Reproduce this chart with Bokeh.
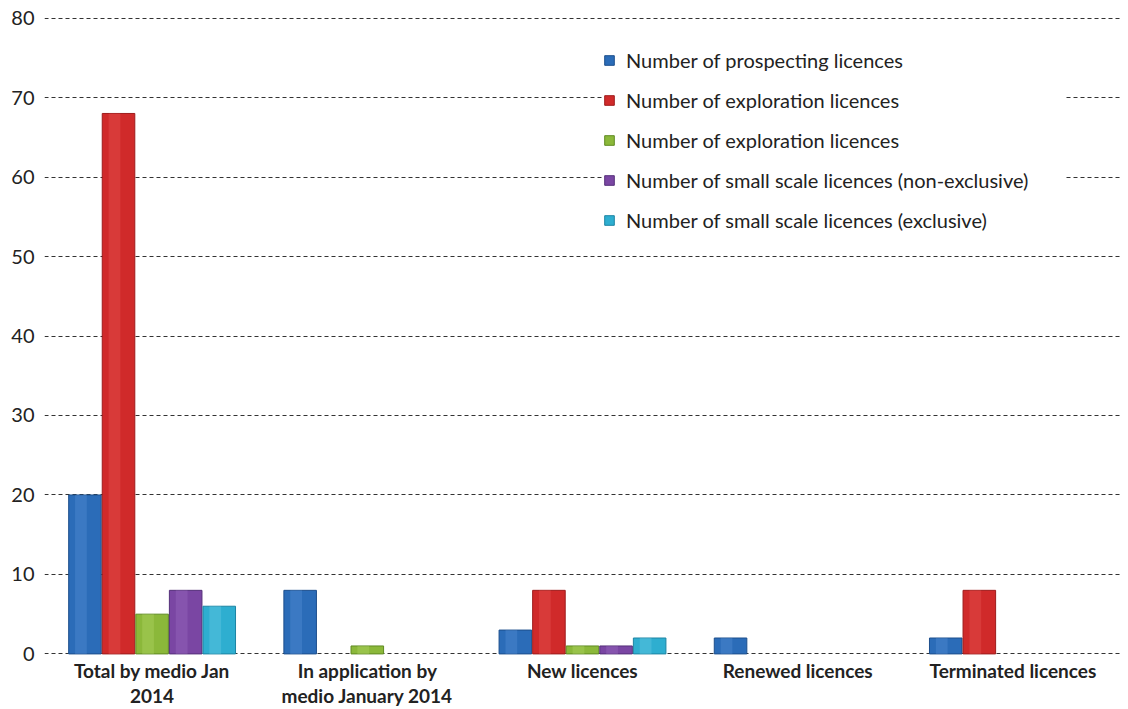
from bokeh.plotting import figure
from bokeh.models import ColumnDataSource, FactorRange, Range1d, Legend, LegendItem, FixedTicker
from bokeh.transform import dodge
from bokeh.embed import file_html
from bokeh.resources import INLINE

categories = ["Total by medio Jan\n2014", "In application by\nmedio January 2014",
              "New licences", "Renewed licences", "Terminated licences"]
prospecting = [20, 8, 3, 2, 2]
exploration = [68, 0, 8, 0, 8]
exploration_b = [5, 1, 1, 0, 0]
small_nonexcl = [8, 0, 1, 0, 0]
small_excl = [6, 0, 2, 0, 0]
y_ticks = [0, 10, 20, 30, 40, 50, 60, 70, 80]

series = [
    ("Number of prospecting licences", prospecting, "#2b6cb8", "#1d4f8c", "#5a92d6"),
    ("Number of exploration licences", exploration, "#d02a2a", "#9e1c1c", "#e85a55"),
    ("Number of exploration licences", exploration_b, "#8bb83a", "#5f8a22", "#b5d66a"),
    ("Number of small scale licences (non-exclusive)", small_nonexcl, "#7a46a3", "#55307a", "#9d70c4"),
    ("Number of small scale licences (exclusive)", small_excl, "#2eaed0", "#1d84a3", "#6ccbe6"),
]

p = figure(width=1120, height=708, x_range=FactorRange(*categories, range_padding=0),
           y_range=Range1d(-0.2, 80.2), output_backend="svg", toolbar_location=None,
           frame_width=1076, frame_height=639, min_border_left=44, min_border_right=0,
           min_border_top=16)

p.outline_line_color = None
p.background_fill_color = "white"
p.xgrid.grid_line_color = None
p.ygrid.grid_line_color = "#333333"
p.ygrid.grid_line_dash = "4 3"
p.ygrid.grid_line_width = 1
p.yaxis.ticker = FixedTicker(ticks=y_ticks)

for ax in (p.xaxis, p.yaxis):
    ax.axis_line_color = None
    ax.major_tick_line_color = None
    ax.minor_tick_line_color = None

p.yaxis.major_label_text_font = "Lato"
p.yaxis.major_label_text_font_size = "20px"
p.yaxis.major_label_text_color = "#222222"
p.yaxis.major_label_standoff = 4

p.xaxis.major_label_text_font = "Lato"
p.xaxis.major_label_text_font_style = "bold"
p.xaxis.major_label_text_font_size = "19px"
p.xaxis.major_label_text_color = "#222222"
p.xaxis.major_label_standoff = -3
p.xaxis.major_label_text_line_height = 1.12

slot = 0.156
items = []
for i, (label, vals, col, dark, light) in enumerate(series):
    xs = [c for c, v in zip(categories, vals) if v > 0]
    ys = [v for v in vals if v > 0]
    src = ColumnDataSource(dict(x=xs, top=ys))
    off = (i - 2) * slot
    r = p.vbar(x=dodge("x", off, range=p.x_range), top="top", width=slot * 0.97,
               source=src, fill_color=col, line_color=dark, line_width=1)
    p.vbar(x=dodge("x", off - slot * 0.12, range=p.x_range), top="top", width=slot * 0.35,
           source=src, fill_color=light, fill_alpha=0.35, line_color=None)
    items.append(LegendItem(label=label, renderers=[r]))

legend = Legend(items=items, location=(559, 423), orientation="vertical",
                label_text_font="Lato", label_text_font_size="20px",
                label_text_color="#222222", glyph_width=12, glyph_height=12,
                label_standoff=11, label_height=23, label_width=440, spacing=16, padding=30,
                border_line_color=None, background_fill_color="white",
                background_fill_alpha=1.0)
p.add_layout(legend, "center")

open("out.html", "w").write(file_html(p, INLINE))
